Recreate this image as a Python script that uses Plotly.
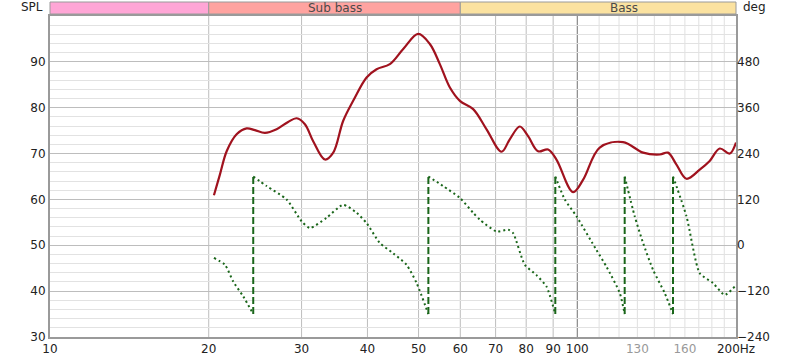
import math
import plotly.graph_objects as go

# ---------------- data ----------------
spl_freq = [20.46, 21.00, 21.63, 22.59, 23.60, 24.47, 25.56, 26.90, 28.29, 29.36,
            30.44, 31.56, 33.22, 34.45, 35.97, 37.58, 39.85, 41.63, 44.11, 46.76,
            49.92, 52.53, 54.87, 57.33, 59.89, 63.47, 67.29, 71.83, 74.47, 77.80,
            80.67, 84.27, 88.03, 91.31, 98.18, 102.6, 110.3, 122.1, 133.3, 143.4,
            148.6, 154.2, 161.1, 170.7, 178.3, 186.3, 194.6, 200.0]
spl_db = [60.9, 65.4, 70.5, 74.2, 75.5, 75.1, 74.5, 75.3, 76.9, 77.7,
          76.4, 72.7, 68.7, 70.2, 77.1, 81.5, 86.6, 88.4, 89.5, 92.8,
          96.1, 93.9, 89.5, 84.4, 81.5, 79.7, 75.3, 70.4, 73.1, 75.9,
          73.8, 70.5, 70.9, 68.7, 61.6, 64.3, 71.3, 72.5, 70.2, 69.8,
          70.2, 67.6, 64.5, 66.5, 68.4, 71.1, 70.0, 72.4]

# phase segments (None separates wrapped segments)
phase_freq = [20.46, 21.47, 22.26, 23.26, 24.29, None,
              24.29, 25.75, 28.10, 30.00, 31.11, 33.46, 35.97, 38.15, 39.85, 42.23, 44.75, 47.46, 49.58, 52.19, None,
              52.19, 55.67, 59.89, 63.47, 65.36, 70.29, 73.93, 75.56, 79.52, 83.67, 87.42, 90.85, None,
              90.85, 94.69, 99.65, 108.7, 113.6, 120.4, 123.0, None,
              123.0, 128.5, 133.3, 139.2, 146.5, 151.9, None,
              151.9, 161.1, 170.7, 180.9, 190.4, 198.9]
phase_deg = [-33, -51, -95, -134, -180, None,
             180, 155, 120, 63, 45, 72, 106, 85, 58, 6, -21, -51, -99, -180, None,
             180, 155, 124, 85, 67, 36, 41, 32, -51, -78, -108, -180, None,
             180, 120, 76, -12, -56, -125, -180, None,
             180, 76, 6, -64, -125, -180, None,
             180, 76, -73, -99, -130, -108]

wrap_freqs = [24.29, 52.19, 90.85, 123.0, 151.9]
wrap_low, wrap_high = -180, 180

x_tick_vals = [10, 20, 30, 40, 50, 60, 70, 80, 90, 100, 130, 160, 200]
x_tick_text = ["10", "20", "30", "40", "50", "60", "70", "80", "90", "100",
               "<span style='color:#999999'>130</span>",
               "<span style='color:#999999'>160</span>", "200Hz"]
grid_major_freqs = [20, 30, 40, 50, 60, 70, 80, 90]
grid_dark_freqs = [100]
grid_minor_freqs = [110, 120, 130, 140, 150, 160, 170, 180, 190]

spl_ticks = [30, 40, 50, 60, 70, 80, 90]
deg_ticks = [-240, -120, 0, 120, 240, 360, 480]

bands = [  # (start Hz, end Hz, label, colour)
    (10, 20, "", "#ffa6d6"),
    (20, 60, "Sub bass", "#ffa3a0"),
    (60, 250, "Bass", "#fbe2a0"),
]

F_MIN, F_MAX = 10, 200
FONT = "DejaVu Sans"

lg = math.log10


def fx(f):
    """frequency -> paper x fraction on the log axis"""
    return (lg(f) - lg(F_MIN)) / (lg(F_MAX) - lg(F_MIN))


# ---------------- figure ----------------
fig = go.Figure()

fig.add_trace(go.Scatter(
    x=spl_freq, y=spl_db, mode="lines", line=dict(color="#a0121e", width=2.2, shape="spline"),
    yaxis="y", hoverinfo="skip"))

fig.add_trace(go.Scatter(
    x=phase_freq, y=phase_deg, mode="lines", connectgaps=False,
    line=dict(color="#1a661a", width=2, dash="2px,3px", shape="spline", smoothing=0.6),
    yaxis="y2", hoverinfo="skip"))

wx, wy = [], []
for f in wrap_freqs:
    wx += [f, f, None]
    wy += [wrap_low, wrap_high, None]
fig.add_trace(go.Scatter(
    x=wx, y=wy, mode="lines", line=dict(color="#1a661a", width=2, dash="7px,3px"),
    yaxis="y2", hoverinfo="skip"))

shapes = []
for f in grid_major_freqs:
    shapes.append(dict(type="line", xref="paper", yref="paper", x0=fx(f), x1=fx(f), y0=0, y1=1,
                       line=dict(color="#bdbdbd", width=1), layer="below"))
for f in grid_minor_freqs:
    shapes.append(dict(type="line", xref="paper", yref="paper", x0=fx(f), x1=fx(f), y0=0, y1=1,
                       line=dict(color="#e0e0e0", width=1), layer="below"))
for f in grid_dark_freqs:
    shapes.append(dict(type="line", xref="paper", yref="paper", x0=fx(f), x1=fx(f), y0=0, y1=1,
                       line=dict(color="#707070", width=1), layer="below"))

band_y0, band_y1 = 1.0062, 1.0436
annotations = []
for (f0, f1, label, col) in bands:
    x1 = min(f1, F_MAX)
    shapes.append(dict(type="rect", xref="paper", yref="paper", x0=fx(f0), x1=fx(x1),
                       y0=band_y0, y1=band_y1, fillcolor=col,
                       line=dict(color="#9a9a9a", width=1), layer="above"))
    if label:
        annotations.append(dict(text=label, xref="paper", yref="paper",
                                x=(fx(f0) + fx(f1)) / 2, y=(band_y0 + band_y1) / 2,
                                showarrow=False, font=dict(family=FONT, size=12, color="#4a4a4a"),
                                xanchor="center", yanchor="middle"))

annotations.append(dict(text="SPL", xref="paper", yref="paper", x=-0.007, y=1.027,
                        showarrow=False, xanchor="right", yanchor="middle",
                        font=dict(family=FONT, size=12, color="#222")))
annotations.append(dict(text="deg", xref="paper", yref="paper", x=1.008, y=1.027,
                        showarrow=False, xanchor="left", yanchor="middle",
                        font=dict(family=FONT, size=12, color="#222")))

fig.update_layout(
    width=800, height=360,
    margin=dict(l=50, r=64, t=16, b=23, autoexpand=False),
    paper_bgcolor="white", plot_bgcolor="white",
    showlegend=False,
    font=dict(family=FONT, size=12, color="#222"),
    shapes=shapes, annotations=annotations,
    xaxis=dict(type="log", range=[lg(F_MIN), lg(F_MAX)], tickmode="array",
               tickvals=x_tick_vals, ticktext=x_tick_text, showgrid=False,
               showline=True, linecolor="#9a9a9a", linewidth=2, mirror=True,
               ticks="", ticklen=0, zeroline=False, automargin=False,
               tickfont=dict(family=FONT, size=12, color="#222")),
    yaxis=dict(range=[30, 100], tickmode="array", tickvals=spl_ticks,
               showgrid=True, gridcolor="#bdbdbd", gridwidth=1,
               minor=dict(dtick=2, tick0=30, showgrid=True, gridcolor="#e2e2e2"),
               showline=True, linecolor="#9a9a9a", linewidth=2, mirror=True,
               ticks="", zeroline=False, automargin=False,
               tickfont=dict(family=FONT, size=12, color="#222")),
    yaxis2=dict(range=[-240, 600], overlaying="y", side="right", tickmode="array",
                tickvals=deg_ticks, showgrid=False, zeroline=False, ticks="",
                automargin=False, tickfont=dict(family=FONT, size=12, color="#222")),
)

fig.write_html("out.html", config={"displayModeBar": False, "staticPlot": True},
               post_script="document.body.style.margin='0';")
